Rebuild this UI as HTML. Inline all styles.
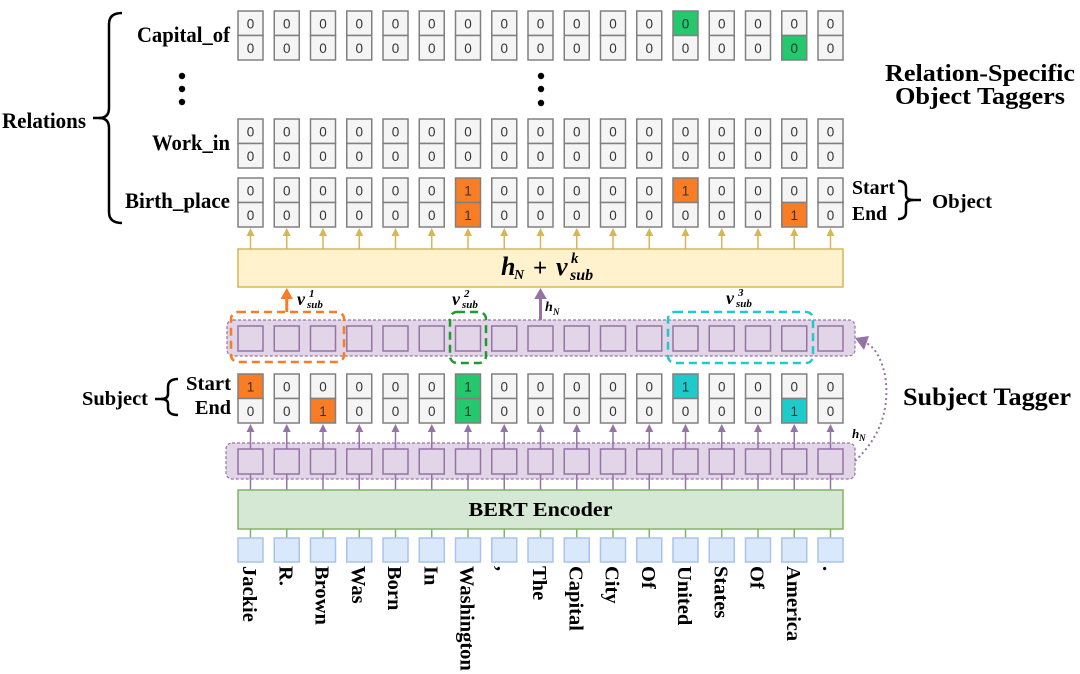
<!DOCTYPE html>
<html><head><meta charset="utf-8">
<style>
html,body{margin:0;padding:0;background:#fff;}
svg{display:block;}
.c rect{fill:#f5f5f5;stroke:#808080;stroke-width:1.5;}
.c text{font-family:"Liberation Sans",sans-serif;font-size:13.5px;text-anchor:middle;fill:#333;}
.lab{font-family:"Liberation Serif",serif;font-weight:bold;fill:#000;}
.tok{font-family:"Liberation Serif",serif;font-weight:bold;font-size:20.5px;fill:#000;}
.m{font-family:"Liberation Serif",serif;font-weight:bold;font-style:italic;fill:#000;}
.ga line{stroke:#d6b656;stroke-width:1.5;}
.ga polygon{fill:#d6b656;}
.pa line{stroke:#9673a6;stroke-width:1.5;}
.pa polygon{fill:#9673a6;}
.gl line{stroke:#82b366;stroke-width:1.5;}
.sq rect{fill:#e1d5e7;stroke:#9673a6;stroke-width:1.5;}
.tb rect{fill:#dae8fc;stroke:#a9c4eb;stroke-width:1.5;}
</style></head>
<body>
<svg width="1080" height="674" viewBox="0 0 1080 674" xmlns="http://www.w3.org/2000/svg">
<rect width="1080" height="674" fill="#fff"/>

<!-- Left labels -->
<text class="lab" x="230" y="42" font-size="22" text-anchor="end" textLength="93" lengthAdjust="spacingAndGlyphs">Capital_of</text>
<text class="lab" x="230" y="150" font-size="22" text-anchor="end" textLength="78" lengthAdjust="spacingAndGlyphs">Work_in</text>
<text class="lab" x="230" y="208" font-size="22" text-anchor="end" textLength="105" lengthAdjust="spacingAndGlyphs">Birth_place</text>
<text class="lab" x="2" y="128" font-size="22" textLength="84" lengthAdjust="spacingAndGlyphs">Relations</text>
<path d="M122,13 Q109,13 109,24 L109,108 Q109,118 99,118 Q109,118 109,128 L109,212 Q109,223 122,223" fill="none" stroke="#000" stroke-width="2.5"/>
<line x1="93" y1="118" x2="101" y2="118" stroke="#000" stroke-width="2.5"/>

<!-- dots -->
<circle cx="182" cy="76" r="3.2" fill="#000"/><circle cx="182" cy="89" r="3.2" fill="#000"/><circle cx="182" cy="102" r="3.2" fill="#000"/>
<circle cx="541" cy="76" r="3.2" fill="#000"/><circle cx="541" cy="89" r="3.2" fill="#000"/><circle cx="541" cy="103" r="3.2" fill="#000"/>

<!-- Right titles -->
<text class="lab" x="980" y="81" font-size="24" text-anchor="middle" textLength="190" lengthAdjust="spacingAndGlyphs">Relation-Specific</text>
<text class="lab" x="980" y="104" font-size="24" text-anchor="middle" textLength="170" lengthAdjust="spacingAndGlyphs">Object Taggers</text>
<text class="lab" x="852" y="194" font-size="20" textLength="43" lengthAdjust="spacingAndGlyphs">Start</text>
<text class="lab" x="852" y="220" font-size="20" textLength="35" lengthAdjust="spacingAndGlyphs">End</text>
<path d="M898,181 Q906,181 906,188 L906,195 Q906,200 913,200 Q906,200 906,205 L906,212 Q906,219 898,219" fill="none" stroke="#000" stroke-width="2.5"/>
<line x1="912" y1="200" x2="921" y2="200" stroke="#000" stroke-width="2.5"/>
<text class="lab" x="932" y="208" font-size="20" textLength="60" lengthAdjust="spacingAndGlyphs">Object</text>

<text class="lab" x="903" y="405" font-size="25" textLength="168" lengthAdjust="spacingAndGlyphs">Subject Tagger</text>

<!-- Subject labels -->
<text class="lab" x="82" y="405" font-size="20" textLength="66" lengthAdjust="spacingAndGlyphs">Subject</text>
<path d="M178,379 Q168,379 168,387 L168,394 Q168,399 161,399 Q168,399 168,404 L168,408 Q168,415 178,415" fill="none" stroke="#000" stroke-width="2.5"/>
<line x1="155" y1="399" x2="163" y2="399" stroke="#000" stroke-width="2.5"/>
<text class="lab" x="186" y="390" font-size="20" textLength="45" lengthAdjust="spacingAndGlyphs">Start</text>
<text class="lab" x="195" y="414" font-size="20" textLength="36" lengthAdjust="spacingAndGlyphs">End</text>

<!-- Row Capital_of y=11 -->
<g class="c">
<g transform="translate(238,11)"><rect width="25" height="24.5"/><rect y="24.5" width="25" height="24.5"/><text x="12.5" y="17.3">0</text><text x="12.5" y="41.8">0</text></g>
<g transform="translate(274.25,11)"><rect width="25" height="24.5"/><rect y="24.5" width="25" height="24.5"/><text x="12.5" y="17.3">0</text><text x="12.5" y="41.8">0</text></g>
<g transform="translate(310.5,11)"><rect width="25" height="24.5"/><rect y="24.5" width="25" height="24.5"/><text x="12.5" y="17.3">0</text><text x="12.5" y="41.8">0</text></g>
<g transform="translate(346.75,11)"><rect width="25" height="24.5"/><rect y="24.5" width="25" height="24.5"/><text x="12.5" y="17.3">0</text><text x="12.5" y="41.8">0</text></g>
<g transform="translate(383,11)"><rect width="25" height="24.5"/><rect y="24.5" width="25" height="24.5"/><text x="12.5" y="17.3">0</text><text x="12.5" y="41.8">0</text></g>
<g transform="translate(419.25,11)"><rect width="25" height="24.5"/><rect y="24.5" width="25" height="24.5"/><text x="12.5" y="17.3">0</text><text x="12.5" y="41.8">0</text></g>
<g transform="translate(455.5,11)"><rect width="25" height="24.5"/><rect y="24.5" width="25" height="24.5"/><text x="12.5" y="17.3">0</text><text x="12.5" y="41.8">0</text></g>
<g transform="translate(491.75,11)"><rect width="25" height="24.5"/><rect y="24.5" width="25" height="24.5"/><text x="12.5" y="17.3">0</text><text x="12.5" y="41.8">0</text></g>
<g transform="translate(528,11)"><rect width="25" height="24.5"/><rect y="24.5" width="25" height="24.5"/><text x="12.5" y="17.3">0</text><text x="12.5" y="41.8">0</text></g>
<g transform="translate(564.25,11)"><rect width="25" height="24.5"/><rect y="24.5" width="25" height="24.5"/><text x="12.5" y="17.3">0</text><text x="12.5" y="41.8">0</text></g>
<g transform="translate(600.5,11)"><rect width="25" height="24.5"/><rect y="24.5" width="25" height="24.5"/><text x="12.5" y="17.3">0</text><text x="12.5" y="41.8">0</text></g>
<g transform="translate(636.75,11)"><rect width="25" height="24.5"/><rect y="24.5" width="25" height="24.5"/><text x="12.5" y="17.3">0</text><text x="12.5" y="41.8">0</text></g>
<g transform="translate(673,11)"><rect width="25" height="24.5" style="fill:#23c96c"/><rect y="24.5" width="25" height="24.5"/><text x="12.5" y="17.3">0</text><text x="12.5" y="41.8">0</text></g>
<g transform="translate(709.25,11)"><rect width="25" height="24.5"/><rect y="24.5" width="25" height="24.5"/><text x="12.5" y="17.3">0</text><text x="12.5" y="41.8">0</text></g>
<g transform="translate(745.5,11)"><rect width="25" height="24.5"/><rect y="24.5" width="25" height="24.5"/><text x="12.5" y="17.3">0</text><text x="12.5" y="41.8">0</text></g>
<g transform="translate(781.75,11)"><rect width="25" height="24.5"/><rect y="24.5" width="25" height="24.5" style="fill:#23c96c"/><text x="12.5" y="17.3">0</text><text x="12.5" y="41.8">0</text></g>
<g transform="translate(818,11)"><rect width="25" height="24.5"/><rect y="24.5" width="25" height="24.5"/><text x="12.5" y="17.3">0</text><text x="12.5" y="41.8">0</text></g>
</g>

<!-- Row Work_in y=119 -->
<g class="c">
<g transform="translate(238,119)"><rect width="25" height="24.5"/><rect y="24.5" width="25" height="24.5"/><text x="12.5" y="17.3">0</text><text x="12.5" y="41.8">0</text></g>
<g transform="translate(274.25,119)"><rect width="25" height="24.5"/><rect y="24.5" width="25" height="24.5"/><text x="12.5" y="17.3">0</text><text x="12.5" y="41.8">0</text></g>
<g transform="translate(310.5,119)"><rect width="25" height="24.5"/><rect y="24.5" width="25" height="24.5"/><text x="12.5" y="17.3">0</text><text x="12.5" y="41.8">0</text></g>
<g transform="translate(346.75,119)"><rect width="25" height="24.5"/><rect y="24.5" width="25" height="24.5"/><text x="12.5" y="17.3">0</text><text x="12.5" y="41.8">0</text></g>
<g transform="translate(383,119)"><rect width="25" height="24.5"/><rect y="24.5" width="25" height="24.5"/><text x="12.5" y="17.3">0</text><text x="12.5" y="41.8">0</text></g>
<g transform="translate(419.25,119)"><rect width="25" height="24.5"/><rect y="24.5" width="25" height="24.5"/><text x="12.5" y="17.3">0</text><text x="12.5" y="41.8">0</text></g>
<g transform="translate(455.5,119)"><rect width="25" height="24.5"/><rect y="24.5" width="25" height="24.5"/><text x="12.5" y="17.3">0</text><text x="12.5" y="41.8">0</text></g>
<g transform="translate(491.75,119)"><rect width="25" height="24.5"/><rect y="24.5" width="25" height="24.5"/><text x="12.5" y="17.3">0</text><text x="12.5" y="41.8">0</text></g>
<g transform="translate(528,119)"><rect width="25" height="24.5"/><rect y="24.5" width="25" height="24.5"/><text x="12.5" y="17.3">0</text><text x="12.5" y="41.8">0</text></g>
<g transform="translate(564.25,119)"><rect width="25" height="24.5"/><rect y="24.5" width="25" height="24.5"/><text x="12.5" y="17.3">0</text><text x="12.5" y="41.8">0</text></g>
<g transform="translate(600.5,119)"><rect width="25" height="24.5"/><rect y="24.5" width="25" height="24.5"/><text x="12.5" y="17.3">0</text><text x="12.5" y="41.8">0</text></g>
<g transform="translate(636.75,119)"><rect width="25" height="24.5"/><rect y="24.5" width="25" height="24.5"/><text x="12.5" y="17.3">0</text><text x="12.5" y="41.8">0</text></g>
<g transform="translate(673,119)"><rect width="25" height="24.5"/><rect y="24.5" width="25" height="24.5"/><text x="12.5" y="17.3">0</text><text x="12.5" y="41.8">0</text></g>
<g transform="translate(709.25,119)"><rect width="25" height="24.5"/><rect y="24.5" width="25" height="24.5"/><text x="12.5" y="17.3">0</text><text x="12.5" y="41.8">0</text></g>
<g transform="translate(745.5,119)"><rect width="25" height="24.5"/><rect y="24.5" width="25" height="24.5"/><text x="12.5" y="17.3">0</text><text x="12.5" y="41.8">0</text></g>
<g transform="translate(781.75,119)"><rect width="25" height="24.5"/><rect y="24.5" width="25" height="24.5"/><text x="12.5" y="17.3">0</text><text x="12.5" y="41.8">0</text></g>
<g transform="translate(818,119)"><rect width="25" height="24.5"/><rect y="24.5" width="25" height="24.5"/><text x="12.5" y="17.3">0</text><text x="12.5" y="41.8">0</text></g>
</g>

<!-- Row Birth_place y=178 -->
<g class="c">
<g transform="translate(238,178)"><rect width="25" height="24.5"/><rect y="24.5" width="25" height="24.5"/><text x="12.5" y="17.3">0</text><text x="12.5" y="41.8">0</text></g>
<g transform="translate(274.25,178)"><rect width="25" height="24.5"/><rect y="24.5" width="25" height="24.5"/><text x="12.5" y="17.3">0</text><text x="12.5" y="41.8">0</text></g>
<g transform="translate(310.5,178)"><rect width="25" height="24.5"/><rect y="24.5" width="25" height="24.5"/><text x="12.5" y="17.3">0</text><text x="12.5" y="41.8">0</text></g>
<g transform="translate(346.75,178)"><rect width="25" height="24.5"/><rect y="24.5" width="25" height="24.5"/><text x="12.5" y="17.3">0</text><text x="12.5" y="41.8">0</text></g>
<g transform="translate(383,178)"><rect width="25" height="24.5"/><rect y="24.5" width="25" height="24.5"/><text x="12.5" y="17.3">0</text><text x="12.5" y="41.8">0</text></g>
<g transform="translate(419.25,178)"><rect width="25" height="24.5"/><rect y="24.5" width="25" height="24.5"/><text x="12.5" y="17.3">0</text><text x="12.5" y="41.8">0</text></g>
<g transform="translate(455.5,178)"><rect width="25" height="24.5" style="fill:#f97d24"/><rect y="24.5" width="25" height="24.5" style="fill:#f97d24"/><text x="12.5" y="17.3">1</text><text x="12.5" y="41.8">1</text></g>
<g transform="translate(491.75,178)"><rect width="25" height="24.5"/><rect y="24.5" width="25" height="24.5"/><text x="12.5" y="17.3">0</text><text x="12.5" y="41.8">0</text></g>
<g transform="translate(528,178)"><rect width="25" height="24.5"/><rect y="24.5" width="25" height="24.5"/><text x="12.5" y="17.3">0</text><text x="12.5" y="41.8">0</text></g>
<g transform="translate(564.25,178)"><rect width="25" height="24.5"/><rect y="24.5" width="25" height="24.5"/><text x="12.5" y="17.3">0</text><text x="12.5" y="41.8">0</text></g>
<g transform="translate(600.5,178)"><rect width="25" height="24.5"/><rect y="24.5" width="25" height="24.5"/><text x="12.5" y="17.3">0</text><text x="12.5" y="41.8">0</text></g>
<g transform="translate(636.75,178)"><rect width="25" height="24.5"/><rect y="24.5" width="25" height="24.5"/><text x="12.5" y="17.3">0</text><text x="12.5" y="41.8">0</text></g>
<g transform="translate(673,178)"><rect width="25" height="24.5" style="fill:#f97d24"/><rect y="24.5" width="25" height="24.5"/><text x="12.5" y="17.3">1</text><text x="12.5" y="41.8">0</text></g>
<g transform="translate(709.25,178)"><rect width="25" height="24.5"/><rect y="24.5" width="25" height="24.5"/><text x="12.5" y="17.3">0</text><text x="12.5" y="41.8">0</text></g>
<g transform="translate(745.5,178)"><rect width="25" height="24.5"/><rect y="24.5" width="25" height="24.5"/><text x="12.5" y="17.3">0</text><text x="12.5" y="41.8">0</text></g>
<g transform="translate(781.75,178)"><rect width="25" height="24.5"/><rect y="24.5" width="25" height="24.5" style="fill:#f97d24"/><text x="12.5" y="17.3">0</text><text x="12.5" y="41.8">1</text></g>
<g transform="translate(818,178)"><rect width="25" height="24.5"/><rect y="24.5" width="25" height="24.5"/><text x="12.5" y="17.3">0</text><text x="12.5" y="41.8">0</text></g>
</g>

<!-- Gold arrows -->
<g class="ga">
<line x1="250.5" y1="249" x2="250.5" y2="234"/><polygon points="250.5,228 246.5,236 254.5,236"/>
<line x1="286.75" y1="249" x2="286.75" y2="234"/><polygon points="286.75,228 282.75,236 290.75,236"/>
<line x1="323" y1="249" x2="323" y2="234"/><polygon points="323,228 319,236 327,236"/>
<line x1="359.25" y1="249" x2="359.25" y2="234"/><polygon points="359.25,228 355.25,236 363.25,236"/>
<line x1="395.5" y1="249" x2="395.5" y2="234"/><polygon points="395.5,228 391.5,236 399.5,236"/>
<line x1="431.75" y1="249" x2="431.75" y2="234"/><polygon points="431.75,228 427.75,236 435.75,236"/>
<line x1="468" y1="249" x2="468" y2="234"/><polygon points="468,228 464,236 472,236"/>
<line x1="504.25" y1="249" x2="504.25" y2="234"/><polygon points="504.25,228 500.25,236 508.25,236"/>
<line x1="540.5" y1="249" x2="540.5" y2="234"/><polygon points="540.5,228 536.5,236 544.5,236"/>
<line x1="576.75" y1="249" x2="576.75" y2="234"/><polygon points="576.75,228 572.75,236 580.75,236"/>
<line x1="613" y1="249" x2="613" y2="234"/><polygon points="613,228 609,236 617,236"/>
<line x1="649.25" y1="249" x2="649.25" y2="234"/><polygon points="649.25,228 645.25,236 653.25,236"/>
<line x1="685.5" y1="249" x2="685.5" y2="234"/><polygon points="685.5,228 681.5,236 689.5,236"/>
<line x1="721.75" y1="249" x2="721.75" y2="234"/><polygon points="721.75,228 717.75,236 725.75,236"/>
<line x1="758" y1="249" x2="758" y2="234"/><polygon points="758,228 754,236 762,236"/>
<line x1="794.25" y1="249" x2="794.25" y2="234"/><polygon points="794.25,228 790.25,236 798.25,236"/>
<line x1="830.5" y1="249" x2="830.5" y2="234"/><polygon points="830.5,228 826.5,236 834.5,236"/>
</g>

<!-- Yellow box -->
<rect x="238" y="249" width="605" height="38" fill="#fff2cc" stroke="#d6b656" stroke-width="1.5"/>
<text class="m" x="501" y="275" font-size="26">h</text>
<text class="m" x="514" y="279" font-size="14">N</text>
<text x="533" y="276" font-size="25" font-family="Liberation Serif,serif" font-weight="bold" fill="#000">+</text>
<text class="m" x="556" y="275" font-size="26">v</text>
<text class="m" x="571" y="263" font-size="15">k</text>
<text class="m" x="570" y="280" font-size="16">sub</text>

<!-- Upper purple row -->
<rect x="227" y="320" width="628" height="36" rx="6" fill="#e1d5e7" stroke="#9673a6" stroke-width="1.2" stroke-dasharray="3 2"/>
<g class="sq">
<rect x="238" y="326" width="25" height="25"/><rect x="274.25" y="326" width="25" height="25"/><rect x="310.5" y="326" width="25" height="25"/><rect x="346.75" y="326" width="25" height="25"/><rect x="383" y="326" width="25" height="25"/><rect x="419.25" y="326" width="25" height="25"/><rect x="455.5" y="326" width="25" height="25"/><rect x="491.75" y="326" width="25" height="25"/><rect x="528" y="326" width="25" height="25"/><rect x="564.25" y="326" width="25" height="25"/><rect x="600.5" y="326" width="25" height="25"/><rect x="636.75" y="326" width="25" height="25"/><rect x="673" y="326" width="25" height="25"/><rect x="709.25" y="326" width="25" height="25"/><rect x="745.5" y="326" width="25" height="25"/><rect x="781.75" y="326" width="25" height="25"/><rect x="818" y="326" width="25" height="25"/>
</g>

<!-- dashed selection boxes -->
<rect x="231" y="312" width="113" height="50" rx="7" fill="none" stroke="#f97d24" stroke-width="2.5" stroke-dasharray="8 5"/>
<rect x="450" y="312" width="36" height="51" rx="7" fill="none" stroke="#1f9a2e" stroke-width="2.5" stroke-dasharray="8 5"/>
<rect x="668" y="312" width="145" height="51" rx="7" fill="none" stroke="#1ecbcb" stroke-width="2.5" stroke-dasharray="8 5"/>

<!-- orange arrow and hN arrow -->
<line x1="286.75" y1="312" x2="286.75" y2="296" stroke="#f97d24" stroke-width="3"/>
<polygon points="286.75,288 280.5,299 293,299" fill="#f97d24"/>
<line x1="540.5" y1="320" x2="540.5" y2="296" stroke="#9673a6" stroke-width="3"/>
<polygon points="540.5,288 534.25,299 546.75,299" fill="#9673a6"/>

<!-- small labels -->
<text class="m" x="297" y="305" font-size="18">v</text>
<text class="m" x="309" y="297" font-size="11">1</text>
<text class="m" x="307" y="308" font-size="11">sub</text>

<text class="m" x="452" y="305" font-size="18">v</text>
<text class="m" x="464" y="297" font-size="11">2</text>
<text class="m" x="462" y="308" font-size="11">sub</text>

<text class="m" x="726" y="304" font-size="18">v</text>
<text class="m" x="738" y="296" font-size="11">3</text>
<text class="m" x="736" y="307" font-size="11">sub</text>

<text class="m" x="545" y="311" font-size="14">h</text>
<text class="m" x="553" y="315" font-size="9">N</text>

<!-- Subject tagger cells y=374 -->
<g class="c">
<g transform="translate(238,374)"><rect width="25" height="24.5" style="fill:#f97d24"/><rect y="24.5" width="25" height="24.5"/><text x="12.5" y="17.3">1</text><text x="12.5" y="41.8">0</text></g>
<g transform="translate(274.25,374)"><rect width="25" height="24.5"/><rect y="24.5" width="25" height="24.5"/><text x="12.5" y="17.3">0</text><text x="12.5" y="41.8">0</text></g>
<g transform="translate(310.5,374)"><rect width="25" height="24.5"/><rect y="24.5" width="25" height="24.5" style="fill:#f97d24"/><text x="12.5" y="17.3">0</text><text x="12.5" y="41.8">1</text></g>
<g transform="translate(346.75,374)"><rect width="25" height="24.5"/><rect y="24.5" width="25" height="24.5"/><text x="12.5" y="17.3">0</text><text x="12.5" y="41.8">0</text></g>
<g transform="translate(383,374)"><rect width="25" height="24.5"/><rect y="24.5" width="25" height="24.5"/><text x="12.5" y="17.3">0</text><text x="12.5" y="41.8">0</text></g>
<g transform="translate(419.25,374)"><rect width="25" height="24.5"/><rect y="24.5" width="25" height="24.5"/><text x="12.5" y="17.3">0</text><text x="12.5" y="41.8">0</text></g>
<g transform="translate(455.5,374)"><rect width="25" height="24.5" style="fill:#23c96c"/><rect y="24.5" width="25" height="24.5" style="fill:#23c96c"/><text x="12.5" y="17.3">1</text><text x="12.5" y="41.8">1</text></g>
<g transform="translate(491.75,374)"><rect width="25" height="24.5"/><rect y="24.5" width="25" height="24.5"/><text x="12.5" y="17.3">0</text><text x="12.5" y="41.8">0</text></g>
<g transform="translate(528,374)"><rect width="25" height="24.5"/><rect y="24.5" width="25" height="24.5"/><text x="12.5" y="17.3">0</text><text x="12.5" y="41.8">0</text></g>
<g transform="translate(564.25,374)"><rect width="25" height="24.5"/><rect y="24.5" width="25" height="24.5"/><text x="12.5" y="17.3">0</text><text x="12.5" y="41.8">0</text></g>
<g transform="translate(600.5,374)"><rect width="25" height="24.5"/><rect y="24.5" width="25" height="24.5"/><text x="12.5" y="17.3">0</text><text x="12.5" y="41.8">0</text></g>
<g transform="translate(636.75,374)"><rect width="25" height="24.5"/><rect y="24.5" width="25" height="24.5"/><text x="12.5" y="17.3">0</text><text x="12.5" y="41.8">0</text></g>
<g transform="translate(673,374)"><rect width="25" height="24.5" style="fill:#1ecbcb"/><rect y="24.5" width="25" height="24.5"/><text x="12.5" y="17.3">1</text><text x="12.5" y="41.8">0</text></g>
<g transform="translate(709.25,374)"><rect width="25" height="24.5"/><rect y="24.5" width="25" height="24.5"/><text x="12.5" y="17.3">0</text><text x="12.5" y="41.8">0</text></g>
<g transform="translate(745.5,374)"><rect width="25" height="24.5"/><rect y="24.5" width="25" height="24.5"/><text x="12.5" y="17.3">0</text><text x="12.5" y="41.8">0</text></g>
<g transform="translate(781.75,374)"><rect width="25" height="24.5"/><rect y="24.5" width="25" height="24.5" style="fill:#1ecbcb"/><text x="12.5" y="17.3">0</text><text x="12.5" y="41.8">1</text></g>
<g transform="translate(818,374)"><rect width="25" height="24.5"/><rect y="24.5" width="25" height="24.5"/><text x="12.5" y="17.3">0</text><text x="12.5" y="41.8">0</text></g>
</g>

<!-- Lower purple row -->
<rect x="226" y="443" width="629" height="36" rx="6" fill="#e1d5e7" stroke="#9673a6" stroke-width="1.2" stroke-dasharray="3 2"/>
<g class="pa">
<line x1="250.5" y1="490" x2="250.5" y2="430"/><polygon points="250.5,424 246.5,432 254.5,432"/>
<line x1="286.75" y1="490" x2="286.75" y2="430"/><polygon points="286.75,424 282.75,432 290.75,432"/>
<line x1="323" y1="490" x2="323" y2="430"/><polygon points="323,424 319,432 327,432"/>
<line x1="359.25" y1="490" x2="359.25" y2="430"/><polygon points="359.25,424 355.25,432 363.25,432"/>
<line x1="395.5" y1="490" x2="395.5" y2="430"/><polygon points="395.5,424 391.5,432 399.5,432"/>
<line x1="431.75" y1="490" x2="431.75" y2="430"/><polygon points="431.75,424 427.75,432 435.75,432"/>
<line x1="468" y1="490" x2="468" y2="430"/><polygon points="468,424 464,432 472,432"/>
<line x1="504.25" y1="490" x2="504.25" y2="430"/><polygon points="504.25,424 500.25,432 508.25,432"/>
<line x1="540.5" y1="490" x2="540.5" y2="430"/><polygon points="540.5,424 536.5,432 544.5,432"/>
<line x1="576.75" y1="490" x2="576.75" y2="430"/><polygon points="576.75,424 572.75,432 580.75,432"/>
<line x1="613" y1="490" x2="613" y2="430"/><polygon points="613,424 609,432 617,432"/>
<line x1="649.25" y1="490" x2="649.25" y2="430"/><polygon points="649.25,424 645.25,432 653.25,432"/>
<line x1="685.5" y1="490" x2="685.5" y2="430"/><polygon points="685.5,424 681.5,432 689.5,432"/>
<line x1="721.75" y1="490" x2="721.75" y2="430"/><polygon points="721.75,424 717.75,432 725.75,432"/>
<line x1="758" y1="490" x2="758" y2="430"/><polygon points="758,424 754,432 762,432"/>
<line x1="794.25" y1="490" x2="794.25" y2="430"/><polygon points="794.25,424 790.25,432 798.25,432"/>
<line x1="830.5" y1="490" x2="830.5" y2="430"/><polygon points="830.5,424 826.5,432 834.5,432"/>
</g>
<g class="sq">
<rect x="238" y="449" width="25" height="25"/><rect x="274.25" y="449" width="25" height="25"/><rect x="310.5" y="449" width="25" height="25"/><rect x="346.75" y="449" width="25" height="25"/><rect x="383" y="449" width="25" height="25"/><rect x="419.25" y="449" width="25" height="25"/><rect x="455.5" y="449" width="25" height="25"/><rect x="491.75" y="449" width="25" height="25"/><rect x="528" y="449" width="25" height="25"/><rect x="564.25" y="449" width="25" height="25"/><rect x="600.5" y="449" width="25" height="25"/><rect x="636.75" y="449" width="25" height="25"/><rect x="673" y="449" width="25" height="25"/><rect x="709.25" y="449" width="25" height="25"/><rect x="745.5" y="449" width="25" height="25"/><rect x="781.75" y="449" width="25" height="25"/><rect x="818" y="449" width="25" height="25"/>
</g>

<!-- dotted curve arrow -->
<path d="M855,461 Q893,425 885,375 Q879,349 866,343" fill="none" stroke="#9673a6" stroke-width="2" stroke-dasharray="2 3"/>
<polygon points="855,338 869,336 864,350" fill="#9673a6"/>
<text class="m" x="852" y="438" font-size="13">h</text>
<text class="m" x="859" y="441" font-size="9">N</text>

<!-- BERT encoder -->
<rect x="238" y="490" width="605" height="39" fill="#d5e8d4" stroke="#82b366" stroke-width="1.5"/>
<text class="lab" x="540.5" y="516" font-size="20" text-anchor="middle" textLength="144" lengthAdjust="spacingAndGlyphs">BERT Encoder</text>

<g class="gl">
<line x1="250.5" y1="529" x2="250.5" y2="538"/><line x1="286.75" y1="529" x2="286.75" y2="538"/><line x1="323" y1="529" x2="323" y2="538"/><line x1="359.25" y1="529" x2="359.25" y2="538"/><line x1="395.5" y1="529" x2="395.5" y2="538"/><line x1="431.75" y1="529" x2="431.75" y2="538"/><line x1="468" y1="529" x2="468" y2="538"/><line x1="504.25" y1="529" x2="504.25" y2="538"/><line x1="540.5" y1="529" x2="540.5" y2="538"/><line x1="576.75" y1="529" x2="576.75" y2="538"/><line x1="613" y1="529" x2="613" y2="538"/><line x1="649.25" y1="529" x2="649.25" y2="538"/><line x1="685.5" y1="529" x2="685.5" y2="538"/><line x1="721.75" y1="529" x2="721.75" y2="538"/><line x1="758" y1="529" x2="758" y2="538"/><line x1="794.25" y1="529" x2="794.25" y2="538"/><line x1="830.5" y1="529" x2="830.5" y2="538"/>
</g>
<g class="tb">
<rect x="238" y="538" width="25" height="24"/><rect x="274.25" y="538" width="25" height="24"/><rect x="310.5" y="538" width="25" height="24"/><rect x="346.75" y="538" width="25" height="24"/><rect x="383" y="538" width="25" height="24"/><rect x="419.25" y="538" width="25" height="24"/><rect x="455.5" y="538" width="25" height="24"/><rect x="491.75" y="538" width="25" height="24"/><rect x="528" y="538" width="25" height="24"/><rect x="564.25" y="538" width="25" height="24"/><rect x="600.5" y="538" width="25" height="24"/><rect x="636.75" y="538" width="25" height="24"/><rect x="673" y="538" width="25" height="24"/><rect x="709.25" y="538" width="25" height="24"/><rect x="745.5" y="538" width="25" height="24"/><rect x="781.75" y="538" width="25" height="24"/><rect x="818" y="538" width="25" height="24"/>
</g>

<!-- Tokens (rotated) -->
<text class="tok" transform="translate(243,566) rotate(90)">Jackie</text>
<text class="tok" transform="translate(279.25,566) rotate(90)">R.</text>
<text class="tok" transform="translate(315.5,566) rotate(90)">Brown</text>
<text class="tok" transform="translate(351.75,566) rotate(90)">Was</text>
<text class="tok" transform="translate(388,566) rotate(90)">Born</text>
<text class="tok" transform="translate(424.25,566) rotate(90)">In</text>
<text class="tok" transform="translate(460.5,566) rotate(90)">Washington</text>
<text class="tok" transform="translate(496.75,566) rotate(90)">,</text>
<text class="tok" transform="translate(533,566) rotate(90)">The</text>
<text class="tok" transform="translate(569.25,566) rotate(90)">Capital</text>
<text class="tok" transform="translate(605.5,566) rotate(90)">City</text>
<text class="tok" transform="translate(641.75,566) rotate(90)">Of</text>
<text class="tok" transform="translate(678,566) rotate(90)">United</text>
<text class="tok" transform="translate(714.25,566) rotate(90)">States</text>
<text class="tok" transform="translate(750.5,566) rotate(90)">Of</text>
<text class="tok" transform="translate(786.75,566) rotate(90)">America</text>
<text class="tok" transform="translate(823,566) rotate(90)">.</text>
</svg>
</body></html>
